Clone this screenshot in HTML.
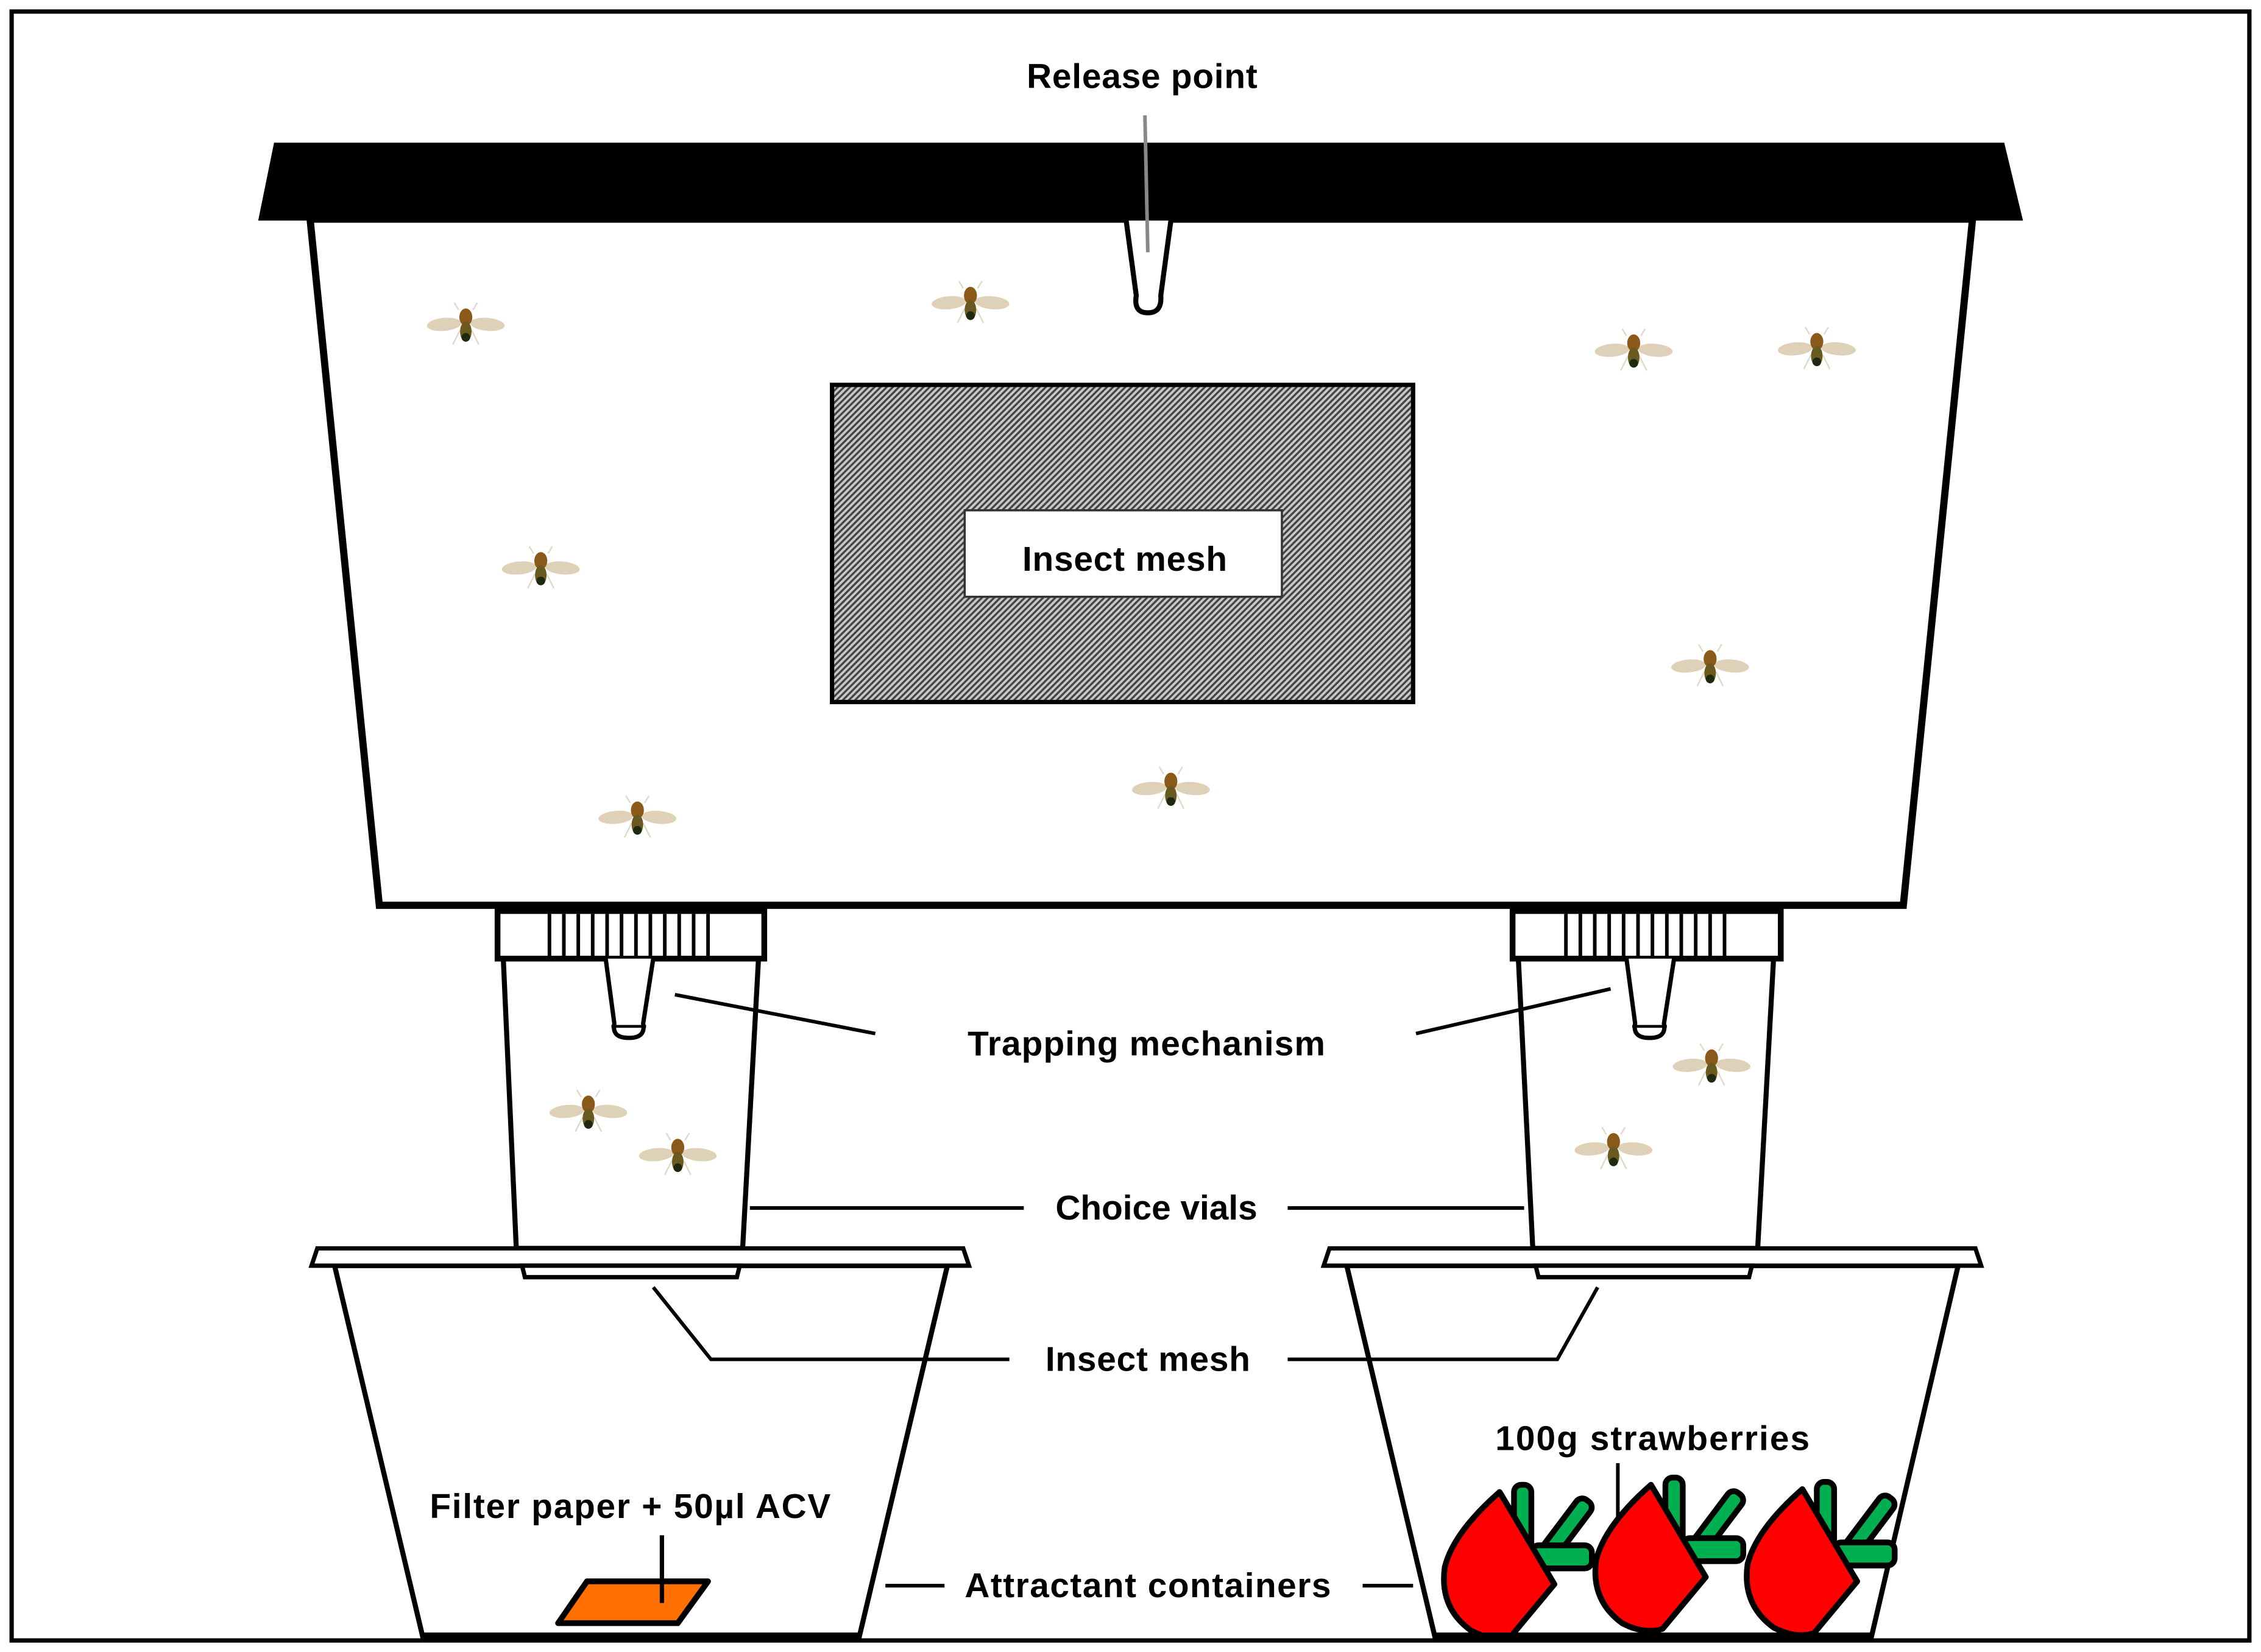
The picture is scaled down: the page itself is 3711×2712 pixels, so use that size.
<!DOCTYPE html>
<html><head><meta charset="utf-8"><style>
html,body{margin:0;padding:0;background:#fff}
svg{display:block}
text{font-family:"Liberation Sans",sans-serif;font-weight:bold;fill:#000}
</style></head><body>
<svg width="3711" height="2712" viewBox="0 0 1568 1146" xmlns="http://www.w3.org/2000/svg">
<defs>
<pattern id="hatch" width="3" height="3" patternUnits="userSpaceOnUse" patternTransform="rotate(45)">
<rect width="3" height="3" fill="#c8c8c8"/><rect width="1.4" height="3" fill="#444"/>
</pattern>
<g id="fly">
<line x1="-5" y1="-10" x2="-8" y2="-15" stroke="#e0d8c8" stroke-width="1"/>
<line x1="5" y1="-10" x2="8" y2="-15" stroke="#e0d8c8" stroke-width="1"/>
<line x1="-4" y1="4" x2="-9" y2="14" stroke="#e0d8c8" stroke-width="1"/>
<line x1="4" y1="4" x2="9" y2="14" stroke="#e0d8c8" stroke-width="1"/>
<ellipse cx="-15" cy="0" rx="12" ry="4.5" fill="#dccbb0" opacity="0.9" transform="rotate(-5 -15 0)"/>
<ellipse cx="15" cy="0" rx="12" ry="4.5" fill="#dccbb0" opacity="0.9" transform="rotate(5 15 0)"/>
<ellipse cx="0" cy="-5" rx="4.5" ry="6" fill="#8b5a1a"/>
<ellipse cx="0" cy="5" rx="4" ry="7" fill="#6b5a20"/>
<ellipse cx="0" cy="9" rx="3" ry="3" fill="#1e2a10"/>
</g>
<g id="berry">
<rect x="10" y="-5" width="12" height="55" rx="5" fill="#00b050" stroke="#000" stroke-width="4"/>
<rect x="-6" y="-55" width="12" height="60" rx="5" fill="#00b050" stroke="#000" stroke-width="4" transform="translate(28,50) rotate(37)"/>
<rect x="22" y="37" width="42" height="16" rx="5" fill="#00b050" stroke="#000" stroke-width="4"/>
<path d="M0,0 L38,64 L8,100 Q-5,104 -20,96 Q-42,80 -38,52 Q-32,28 0,0 Z" fill="#f00" stroke="#000" stroke-width="4" stroke-linejoin="round"/>
</g>
</defs>
<rect x="8" y="8" width="1552" height="1130" fill="#fff" stroke="#000" stroke-width="3"/>
<!-- box -->
<polygon points="215,152 1368,152 1320,628 263,628" fill="#fff" stroke="#000" stroke-width="5"/>
<polygon points="190,99 1390,99 1403,153 179,153" fill="#000"/>
<path d="M781,153 L788,205 Q786,217 796,217 Q806,217 805,205 L812,153" fill="#fff" stroke="#000" stroke-width="3.5"/>
<line x1="794" y1="80" x2="796" y2="175" stroke="#888" stroke-width="2.5"/>
<text x="792" y="61" font-size="24" text-anchor="middle" textLength="160">Release point</text>
<!-- mesh window -->
<rect x="577" y="267" width="403" height="220" fill="url(#hatch)" stroke="#000" stroke-width="3"/>
<rect x="669" y="354" width="220" height="60" fill="#fff" stroke="#333" stroke-width="1.5"/>
<text x="780" y="396" font-size="24" text-anchor="middle" textLength="142">Insect mesh</text>
<!-- flies -->
<use href="#fly" x="323" y="225"/><use href="#fly" x="673" y="210"/>
<use href="#fly" x="1133" y="243"/><use href="#fly" x="1260" y="242"/>
<use href="#fly" x="375" y="394"/><use href="#fly" x="1186" y="462"/>
<use href="#fly" x="442" y="567"/><use href="#fly" x="812" y="547"/>
<!-- left vial -->
<polygon points="349,665 526,665 515,866 358,866" fill="#fff" stroke="#000" stroke-width="3.5"/>
<rect x="345" y="632" width="185" height="33" fill="#fff" stroke="#000" stroke-width="4"/>
<g stroke="#000" stroke-width="2.5">
<line x1="381" y1="634" x2="381" y2="663"/><line x1="391" y1="634" x2="391" y2="663"/><line x1="401" y1="634" x2="401" y2="663"/><line x1="411" y1="634" x2="411" y2="663"/><line x1="421" y1="634" x2="421" y2="663"/><line x1="431" y1="634" x2="431" y2="663"/><line x1="441" y1="634" x2="441" y2="663"/><line x1="451" y1="634" x2="451" y2="663"/><line x1="461" y1="634" x2="461" y2="663"/><line x1="471" y1="634" x2="471" y2="663"/><line x1="481" y1="634" x2="481" y2="663"/><line x1="491" y1="634" x2="491" y2="663"/>
</g>
<path d="M420,665 L426,710 Q424,720 436,720 Q448,720 446,710 L453,665" fill="#fff" stroke="#000" stroke-width="3"/>
<line x1="424" y1="712" x2="448" y2="712" stroke="#000" stroke-width="2"/>
<!-- right vial -->
<polygon points="1053,665 1230,665 1219,866 1063,866" fill="#fff" stroke="#000" stroke-width="3.5"/>
<rect x="1049" y="632" width="186" height="33" fill="#fff" stroke="#000" stroke-width="4"/>
<g stroke="#000" stroke-width="2.5">
<line x1="1086" y1="634" x2="1086" y2="663"/><line x1="1096" y1="634" x2="1096" y2="663"/><line x1="1106" y1="634" x2="1106" y2="663"/><line x1="1116" y1="634" x2="1116" y2="663"/><line x1="1126" y1="634" x2="1126" y2="663"/><line x1="1136" y1="634" x2="1136" y2="663"/><line x1="1146" y1="634" x2="1146" y2="663"/><line x1="1156" y1="634" x2="1156" y2="663"/><line x1="1166" y1="634" x2="1166" y2="663"/><line x1="1176" y1="634" x2="1176" y2="663"/><line x1="1186" y1="634" x2="1186" y2="663"/><line x1="1196" y1="634" x2="1196" y2="663"/>
</g>
<path d="M1128,665 L1134,710 Q1132,720 1144,720 Q1156,720 1154,710 L1161,665" fill="#fff" stroke="#000" stroke-width="3"/>
<line x1="1132" y1="712" x2="1156" y2="712" stroke="#000" stroke-width="2"/>
<use href="#fly" x="408" y="771"/><use href="#fly" x="470" y="801"/>
<use href="#fly" x="1187" y="739"/><use href="#fly" x="1119" y="797"/>
<!-- left container -->
<polygon points="232,878 657,878 596,1135 293,1135" fill="#fff" stroke="#000" stroke-width="3.5"/>
<polygon points="220,866 668,866 672,878 216,878" fill="#fff" stroke="#000" stroke-width="3"/>
<polygon points="362,878 513,878 511,886 364,886" fill="#fff" stroke="#000" stroke-width="3"/>
<line x1="293" y1="1135" x2="596" y2="1135" stroke="#000" stroke-width="5"/>
<text x="437" y="1053" font-size="24" text-anchor="middle" textLength="278">Filter paper + 50µl ACV</text>
<polygon points="407,1097 491,1097 470,1126 387,1126" fill="#ff7000" stroke="#000" stroke-width="4" stroke-linejoin="round"/>
<line x1="459" y1="1065" x2="459" y2="1112" stroke="#000" stroke-width="3"/>
<!-- right container -->
<polygon points="934,878 1358,878 1298,1135 995,1135" fill="#fff" stroke="#000" stroke-width="3.5"/>
<polygon points="922,866 1370,866 1374,878 918,878" fill="#fff" stroke="#000" stroke-width="3"/>
<polygon points="1065,878 1215,878 1213,886 1067,886" fill="#fff" stroke="#000" stroke-width="3"/>
<text x="1146" y="1006" font-size="24" text-anchor="middle" textLength="218">100g strawberries</text>
<use href="#berry" x="1040" y="1035"/>
<use href="#berry" x="1145" y="1030"/>
<use href="#berry" x="1250" y="1033"/>
<line x1="995" y1="1135" x2="1298" y2="1135" stroke="#000" stroke-width="5"/>
<!-- leaders -->
<g stroke="#000" stroke-width="2.5">
<line x1="468" y1="690" x2="607" y2="717"/><line x1="982" y1="717" x2="1117" y2="686"/>
<line x1="520" y1="838" x2="710" y2="838"/><line x1="893" y1="838" x2="1057" y2="838"/>
<polyline points="453,893 493,943 700,943" fill="none"/><polyline points="893,943 1080,943 1108,893" fill="none"/>
<line x1="614" y1="1100" x2="655" y2="1100"/><line x1="945" y1="1100" x2="980" y2="1100"/>
<line x1="1122" y1="1015" x2="1122" y2="1055"/>
</g>
<text x="795" y="732" font-size="24" text-anchor="middle" textLength="248">Trapping  mechanism</text>
<text x="802" y="846" font-size="24" text-anchor="middle" textLength="140">Choice vials</text>
<text x="796" y="951" font-size="24" text-anchor="middle" textLength="142">Insect mesh</text>
<text x="796" y="1108" font-size="24" text-anchor="middle" textLength="254">Attractant containers</text>
</svg>
</body></html>
